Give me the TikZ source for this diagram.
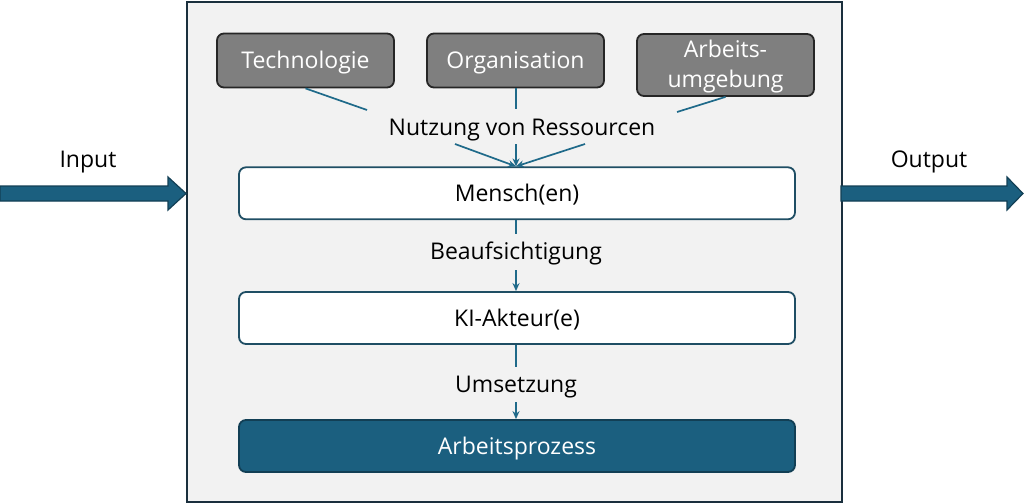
\documentclass[tikz,border=0pt]{standalone}
\usepackage{fontspec}
\setmainfont{Open Sans}
\usetikzlibrary{arrows.meta}
\definecolor{frame}{HTML}{1A2F3D}
\definecolor{panel}{HTML}{F2F2F2}
\definecolor{resgray}{HTML}{7F7F7F}
\definecolor{teal}{HTML}{1B5F7F}
\definecolor{tealdark}{HTML}{123F55}
\definecolor{conn}{HTML}{1F6A8A}
\definecolor{boxline}{HTML}{1F4E64}
\tikzset{
  txt/.style={font=\fontsize{23}{29.7}\selectfont},
  captxt/.style={txt, text height=16.4pt, text depth=0pt},
  resbox/.style={draw=black!85, fill=resgray, line width=1.8pt, rounded corners=7pt,
    minimum width=177pt, minimum height=54pt, inner sep=0pt, text=white, captxt},
  actbox/.style={draw=boxline, fill=white, line width=1.8pt, rounded corners=7pt,
    minimum width=556pt, minimum height=52pt, inner sep=0pt, captxt},
  procbox/.style={actbox, fill=teal, draw=tealdark, text=white},
  lbl/.style={inner sep=0pt, captxt},
  conline/.style={draw=conn, line width=1.7pt},
  conarrow/.style={conline, -{Stealth[length=8pt,width=7pt]}},
  bigarrow/.style={fill=teal, draw=tealdark, line width=1.2pt, line join=miter}
}
\begin{document}
\begin{tikzpicture}[x=1pt,y=-1pt]
\useasboundingbox (0,0) rectangle (1024,503);
% main panel
\node[draw=frame, fill=panel, line width=2.4pt, minimum width=655pt, minimum height=500pt,
  inner sep=0pt, anchor=north west] (main) at (186,1) {};
% resources
\node[resbox] (tech) at (305.5,60.5) {Technologie};
\node[resbox] (org) at (515.5,60.5) {Organisation};
\node[resbox, minimum height=62pt] (arb) at (725.5,65) {};
\node[txt, text=white, align=center, inner sep=0pt, yshift=-1.5pt] (arbtext) at (arb.center) {Arbeits-\\umgebung};
% actors
\node[actbox] (mensch) at (517,193.3) {Mensch(en)};
\node[actbox] (ki) at (517,318) {KI-Akteur(e)};
\node[procbox] (proc) at (517,446) {Arbeitsprozess};
% labels
\node[lbl] (nutz) at (522,127) {Nutzung von Ressourcen};
\node[lbl] (beauf) at (516,251.5) {Beaufsichtigung};
\node[lbl] (umsetz) at (516,384.5) {Umsetzung};
\node[lbl] (input) at (88,159) {Input};
\node[lbl] (output) at (929,159) {Output};
% connector points
\coordinate (t1) at (367,110);
\coordinate (o1) at (516,109);
\coordinate (a1) at (677,112);
\coordinate (t2) at (455,144);
\coordinate (o2) at (516,144);
\coordinate (a2) at (585,144);
\coordinate (m1) at (516,234);
\coordinate (m2) at (516,270);
\coordinate (k1) at (516,367);
\coordinate (k2) at (516,402);
\draw[conline] (tech.south) -- (t1);
\draw[conline] (org.south -| o1) -- (o1);
\draw[conline] (arb.south) -- (a1);
\draw[conarrow] (t2) -- (mensch.north -| o2);
\draw[conarrow] (o2) -- (mensch.north -| o2);
\draw[conarrow] (a2) -- (mensch.north -| o2);
\draw[conline] (mensch.south -| m1) -- (m1);
\draw[conarrow] (m2) -- (ki.north -| m2);
\draw[conline] (ki.south -| k1) -- (k1);
\draw[conarrow] (k2) -- (proc.north -| k2);
% input / output arrows
\coordinate (inStart) at (0,193.5);
\coordinate (outEnd) at (1023,193.5);
\draw[bigarrow] (0,186) -- (168,186) -- (168,177) -- (main.west |- inStart)
  -- (168,210) -- (168,201) -- (0,201) -- cycle;
\draw[bigarrow] (841,186) -- (1007,186) -- (1007,177) -- (outEnd)
  -- (1007,210) -- (1007,201) -- (841,201) -- cycle;
\end{tikzpicture}
\end{document}
